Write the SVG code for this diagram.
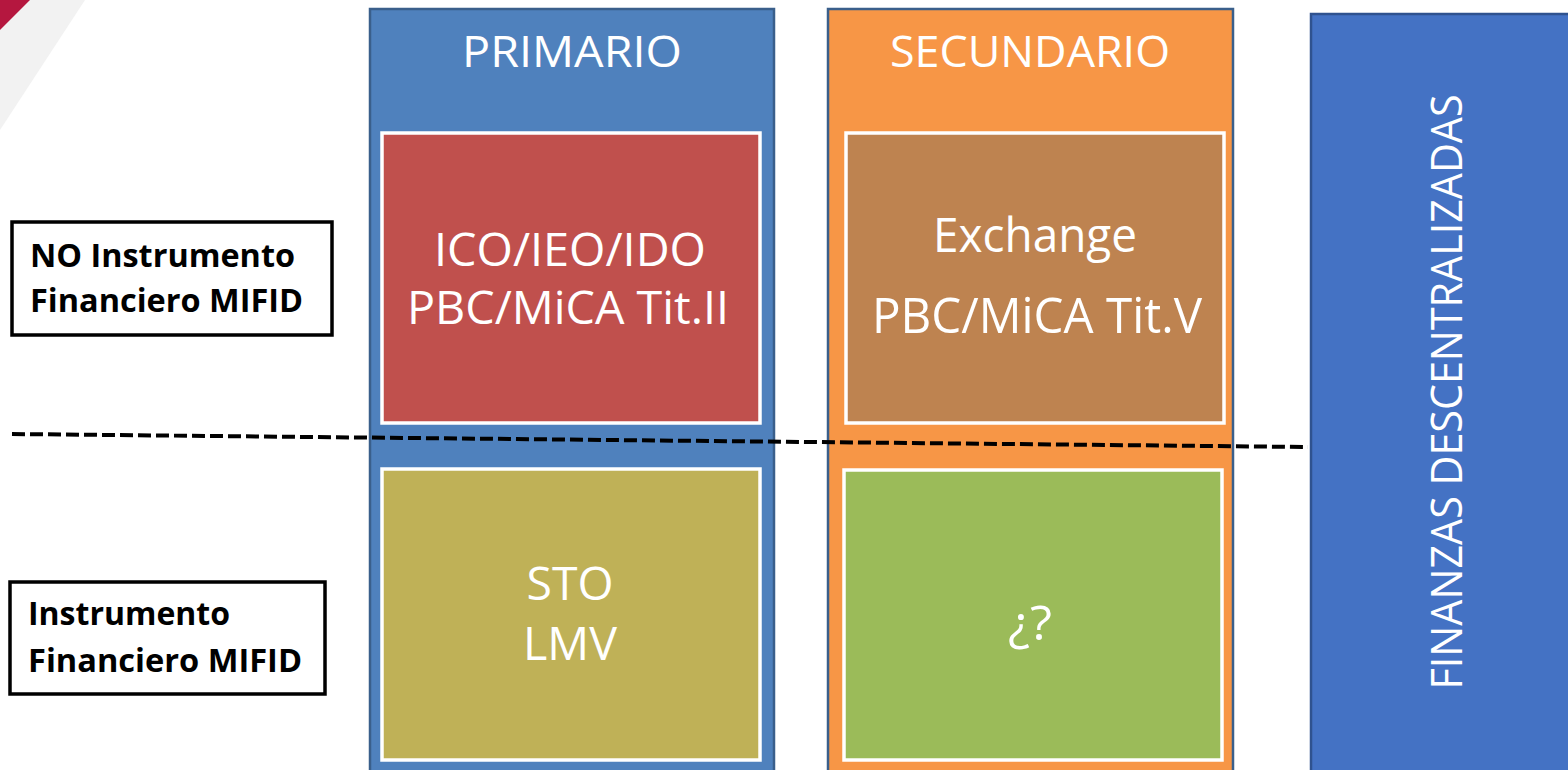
<svg xmlns="http://www.w3.org/2000/svg" width="1568" height="770" viewBox="0 0 1568 770">
<style>
.col{stroke:#3a5f8b;stroke-width:2.5}
.inner{stroke:#ffffff;stroke-width:3.5}
.wt{fill:#ffffff;font-family:"Open Sans","Liberation Sans",sans-serif;text-anchor:middle}
.lbl{fill:#ffffff;stroke:#000000;stroke-width:3.5}
.bt{fill:#000000;font-family:"Open Sans","Liberation Sans",sans-serif;font-weight:bold;font-size:32px}
</style>
<rect width="1568" height="770" fill="#ffffff"/>
<g id="corner">
<polygon points="30,0 85,0 0,130 0,30" fill="#f2f2f2"/>
<polygon points="0,0 30,0 0,30" fill="#b5173f"/>
</g>
<g id="primario">
<rect class="col" x="370" y="9" width="404" height="775" fill="#4f81bd"/>
<text class="wt" x="572" y="67" font-size="44" textLength="220" lengthAdjust="spacingAndGlyphs">PRIMARIO</text>
</g>
<g id="secundario">
<rect class="col" x="828" y="9" width="405" height="775" fill="#f79646"/>
<text class="wt" x="1030" y="67" font-size="44" textLength="280" lengthAdjust="spacingAndGlyphs">SECUNDARIO</text>
</g>
<g id="finanzas">
<rect x="1311" y="14" width="270" height="770" fill="#4472c4" stroke="#2f528f" stroke-width="2.5"/>
<text class="wt" transform="translate(1462,392) rotate(-90)" font-size="44" textLength="595" lengthAdjust="spacingAndGlyphs">FINANZAS DESCENTRALIZADAS</text>
</g>
<g id="ico">
<rect class="inner" x="382" y="133" width="378" height="290" fill="#c0504d"/>
<text class="wt" x="570" y="266" font-size="46" textLength="272" lengthAdjust="spacingAndGlyphs">ICO/IEO/IDO</text>
<text class="wt" x="568" y="324" font-size="46" textLength="322" lengthAdjust="spacingAndGlyphs">PBC/MiCA Tit.II</text>
</g>
<g id="exchange">
<rect class="inner" x="846" y="133" width="378" height="290" fill="#be8350"/>
<text class="wt" x="1035" y="252" font-size="48" textLength="204" lengthAdjust="spacingAndGlyphs">Exchange</text>
<text class="wt" x="1037" y="333" font-size="49" textLength="330" lengthAdjust="spacingAndGlyphs">PBC/MiCA Tit.V</text>
</g>
<g id="sto">
<rect class="inner" x="382" y="469" width="378" height="291" fill="#bfb157"/>
<text class="wt" x="570" y="600" font-size="46" textLength="87" lengthAdjust="spacingAndGlyphs">STO</text>
<text class="wt" x="570" y="660" font-size="46" textLength="94" lengthAdjust="spacingAndGlyphs">LMV</text>
</g>
<g id="unknown">
<rect class="inner" x="844" y="470" width="378" height="290" fill="#9bbb59"/>
<text class="wt" x="1030" y="640" font-size="48" textLength="44" lengthAdjust="spacingAndGlyphs">¿?</text>
</g>
<g id="no-instrumento">
<rect class="lbl" x="12" y="222" width="320" height="113"/>
<text class="bt" x="30" y="267" textLength="265" lengthAdjust="spacingAndGlyphs">NO Instrumento</text>
<text class="bt" x="30" y="312" textLength="273" lengthAdjust="spacingAndGlyphs">Financiero MIFID</text>
</g>
<g id="instrumento">
<rect class="lbl" x="10" y="582" width="315" height="112"/>
<text class="bt" x="28" y="625" textLength="202" lengthAdjust="spacingAndGlyphs">Instrumento</text>
<text class="bt" x="28" y="672" textLength="274" lengthAdjust="spacingAndGlyphs">Financiero MIFID</text>
</g>
<g id="connectors">
<line x1="12" y1="434" x2="1308" y2="447" stroke="#000000" stroke-width="4" stroke-dasharray="13 5"/>
</g>
</svg>
